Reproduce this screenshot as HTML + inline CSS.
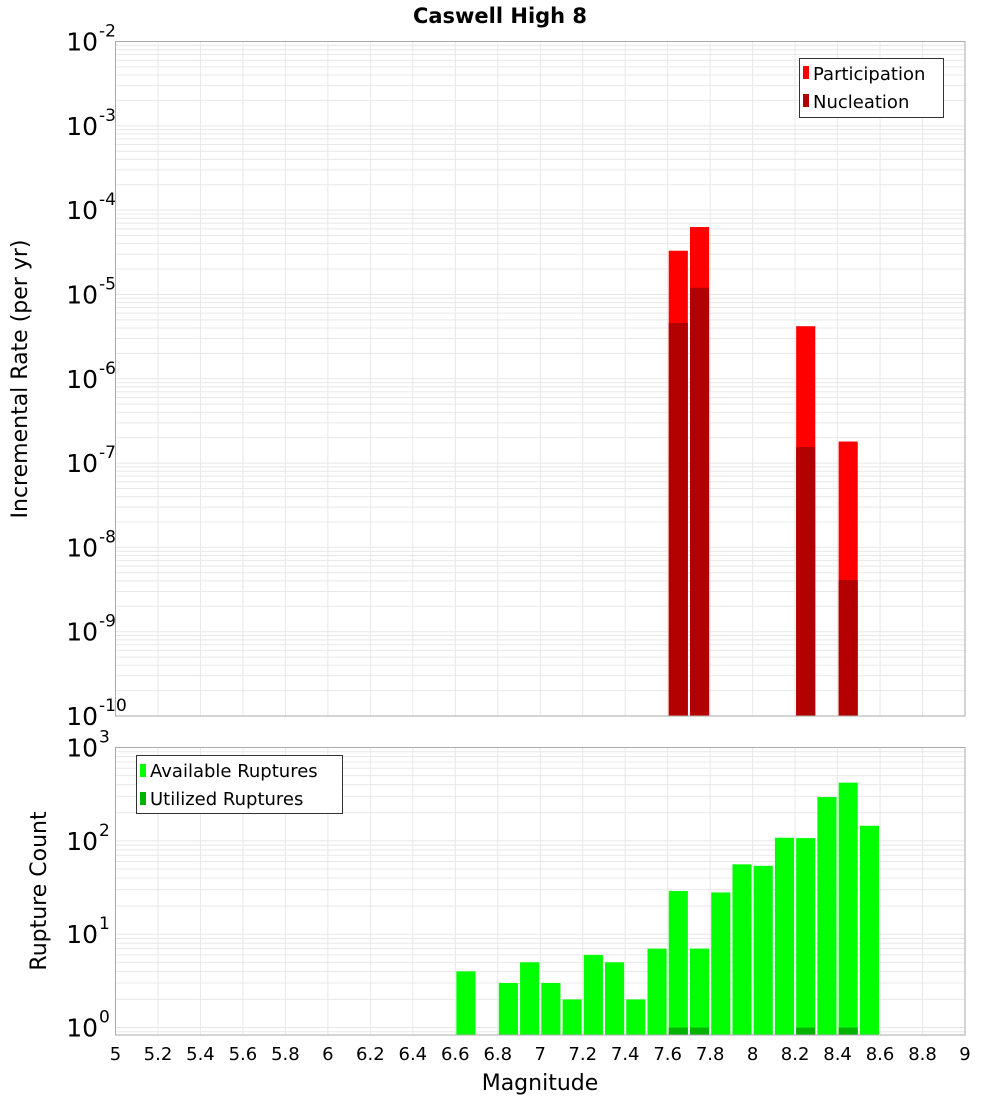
<!DOCTYPE html>
<html><head><meta charset="utf-8"><style>
body{margin:0;background:#fff;}
svg{display:block;font-family:"DejaVu Sans","Liberation Sans",sans-serif;}
</style></head><body>
<svg id="chart" width="1000" height="1100" xmlns="http://www.w3.org/2000/svg">
<text x="500" y="23" text-anchor="middle" font-size="21" font-weight="bold">Caswell High 8</text>
<g id="top"></g><g id="bot"></g>
<text transform="translate(27,379) rotate(-90)" text-anchor="middle" font-size="22">Incremental Rate (per yr)</text>
<text transform="translate(46,891) rotate(-90)" text-anchor="middle" font-size="22">Rupture Count</text>
<text x="540" y="1090" text-anchor="middle" font-size="22">Magnitude</text>
</svg>
<script>
const mags = [7.65, 7.75, 8.25, 8.45];
const participation = [3.3e-5, 6.3e-5, 4.2e-6, 1.8e-7];
const nucleation = [4.6e-6, 1.2e-5, 1.55e-7, 4.1e-9];
const countMags = [6.65,6.85,6.95,7.05,7.15,7.25,7.35,7.45,7.55,7.65,7.75,7.85,7.95,8.05,8.15,8.25,8.35,8.45,8.55];
const available = [4,3,5,3,2,6,5,2,7,29,7,28,56,54,108,107,295,420,145];
const utilMags = [7.65,7.75,8.25,8.45];
const utilized = [1,1,1,1];
const xTicks = [5,5.2,5.4,5.6,5.8,6,6.2,6.4,6.6,6.8,7,7.2,7.4,7.6,7.8,8,8.2,8.4,8.6,8.8,9];
const topExps = [-2,-3,-4,-5,-6,-7,-8,-9,-10];
const botExps = [3,2,1,0];

const NS="http://www.w3.org/2000/svg";
const L=115.5,R=965;
const X=m=>L+(m-5)/4*(R-L);
const yTop=v=>41.5+(-2-Math.log10(v))/8*(716-41.5);
const yBot=v=>747.5+(3-Math.log10(v))/3.08*(1035-747.5);
function mk(p,tag,a){const e=document.createElementNS(NS,tag);for(const k in a)e.setAttribute(k,a[k]);p.appendChild(e);return e;}
function panel(g,top,bot,yf,lo,hi,exps,name){
  mk(g,'rect',{x:L,y:top,width:R-L,height:bot-top,fill:'#fff'});
  for(let d=lo;d<hi;d++)for(let k=1;k<10;k++){const v=k*Math.pow(10,d);const y=yf(v);if(y<top||y>bot)continue;
    const ln=mk(g,'line',{x1:L,x2:R,y1:y,y2:y,stroke:'#e8e8e8','stroke-width':1});
    }
  xTicks.forEach(t=>{const ln=mk(g,'line',{x1:X(t),x2:X(t),y1:top,y2:bot,stroke:'#e8e8e8','stroke-width':1});
    });
  exps.forEach(e=>{const y=yf(Math.pow(10,e));
    const t=mk(g,'text',{x:98,y:y+9,'text-anchor':'end','font-size':25});t.textContent='10';
    
    const s=mk(g,'text',{x:99,y:y-5,'font-size':17});s.textContent=String(e);
    });
}
const gt=document.getElementById('top'),gb=document.getElementById('bot');
panel(gt,41.5,716,yTop,-10,-2,topExps,'top');
const bw=(X(0.1)-X(0))*0.9;
mags.forEach((m,i)=>{const r=mk(gt,'rect',{x:X(m)-bw/2,y:yTop(participation[i]),width:bw,height:716-yTop(participation[i]),fill:'#ff0000'});
  });
mags.forEach((m,i)=>{const r=mk(gt,'rect',{x:X(m)-bw/2,y:yTop(nucleation[i]),width:bw,height:716-yTop(nucleation[i]),fill:'#b30000'});
  });
mk(gt,'rect',{x:L,y:41.5,width:R-L,height:716-41.5,fill:'none',stroke:'#aaa','stroke-width':1});
// top legend
const lg=mk(gt,'g',{});
mk(lg,'rect',{x:799.5,y:58.5,width:144,height:59,fill:'#fff',stroke:'#333'});
mk(lg,'rect',{x:803,y:66,width:6,height:13,fill:'#ff0000'});
mk(lg,'rect',{x:803,y:94,width:6,height:13,fill:'#b30000'});
let t=mk(lg,'text',{x:813,y:80,'font-size':18});t.textContent='Participation';
t=mk(lg,'text',{x:813,y:108,'font-size':18});t.textContent='Nucleation';

panel(gb,747.5,1035,yBot,-1,3,botExps,'bottom');
countMags.forEach((m,i)=>{const r=mk(gb,'rect',{x:X(m)-bw/2,y:yBot(available[i]),width:bw,height:1035-yBot(available[i]),fill:'#00ff00'});
  });
utilMags.forEach((m,i)=>{const r=mk(gb,'rect',{x:X(m)-bw/2,y:yBot(utilized[i]),width:bw,height:1035-yBot(utilized[i]),fill:'#00b300'});
  });
mk(gb,'rect',{x:L,y:747.5,width:R-L,height:1035-747.5,fill:'none',stroke:'#aaa','stroke-width':1});
const lg2=mk(gb,'g',{});
mk(lg2,'rect',{x:136.5,y:755.5,width:206,height:58,fill:'#fff',stroke:'#333'});
mk(lg2,'rect',{x:140,y:764,width:6,height:13,fill:'#00ff00'});
mk(lg2,'rect',{x:140,y:792,width:6,height:13,fill:'#00b300'});
t=mk(lg2,'text',{x:150,y:777,'font-size':18});t.textContent='Available Ruptures';
t=mk(lg2,'text',{x:150,y:805,'font-size':18});t.textContent='Utilized Ruptures';
xTicks.forEach(v=>{const e=mk(gb,'text',{x:X(v),y:1060,'text-anchor':'middle','font-size':18});e.textContent=String(v);
  });
</script>
</body></html>
